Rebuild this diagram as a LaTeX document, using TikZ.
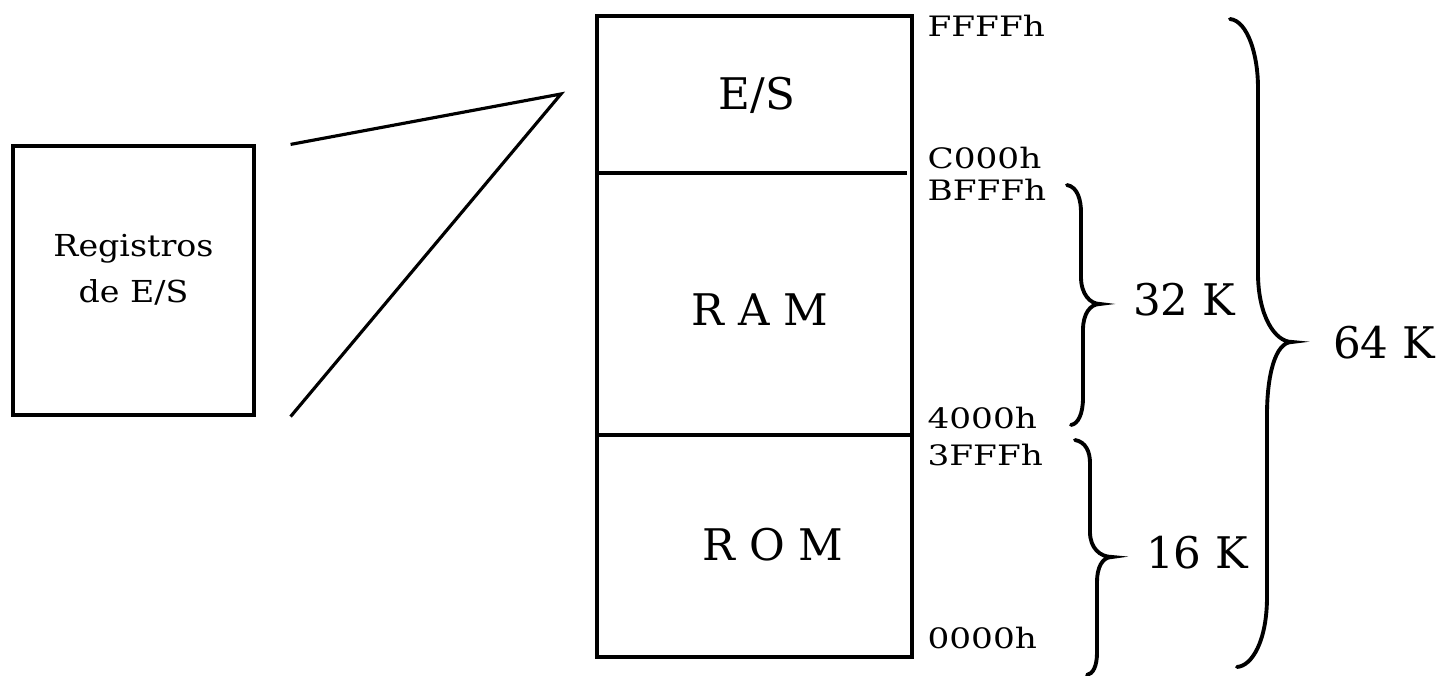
\documentclass[tikz,border=0pt]{standalone}
\usepackage{fontspec}
\setmainfont{DejaVu Serif}
\newfontfamily\addrfont[FakeStretch=1.22]{DejaVu Serif}
\newfontfamily\regsfont[FakeStretch=1.1]{DejaVu Serif}
\usetikzlibrary{positioning}
\usetikzlibrary{calc}

\begin{document}
\begin{tikzpicture}[line width=0.9pt,
    every node/.style={inner sep=0pt},
    region/.style={font=\fontsize{12.4}{14}\selectfont},
    addr/.style={anchor=west, font=\addrfont\fontsize{8}{9}\selectfont},
    size/.style={font=\fontsize{12.4}{14}\selectfont},
    llave/.style={line width=1.1pt, line cap=round}]
    \useasboundingbox (0,0) rectangle (14.39,6.76);
    % registros de E/S y el zoom hacia el mapa
    \node[draw, minimum width=2.41cm, minimum height=2.69cm] (regs) at (1.335, 3.955) {};
    \node[align=center, font=\regsfont\fontsize{8.6}{13}\selectfont] (regstxt)
          at ($(regs.center)+(0,0.11)$) {Registros\\de E/S};
    \coordinate (apex) at (5.61, 5.82);
    \coordinate (zt) at ($(regs.north east)+(0.35,0)$);
    \coordinate (zb) at ($(regs.south east)+(0.35,0)$);
    \draw (zt) -- (apex) -- (zb);
    % mapa de memoria
    \node[draw, minimum width=3.15cm, minimum height=6.41cm] (mem) at (7.545, 3.395) {};
    \draw (mem.west |- 0,5.03) -- (9.07, 5.03);
    \draw (mem.west |- 0,2.41) -- (mem.east |- 0,2.41);
    \node[region] (es) at (7.57, 5.81) {E/S};
    \node[region] (ram) at (7.60, 3.66) {R A M};
    \node[region] (rom) at (7.73, 1.31) {R O M};
    \foreach \y/\a in {6.50/FFFFh, 5.18/C000h, 4.86/BFFFh, 2.58/4000h, 2.21/3FFFh, 0.38/0000h} {
        \node[addr] (a\a) at (9.26, \y) {\a};
    }
    % llaves
    \draw[llave] (10.67,4.91) .. controls (10.78,4.89) and (10.81,4.75) .. (10.81,4.64)
        -- (10.81,3.99) .. controls (10.81,3.82) and (10.90,3.72) .. (11.00,3.72)
        .. controls (10.90,3.72) and (10.83,3.62) .. (10.83,3.46)
        -- (10.83,2.78) .. controls (10.83,2.62) and (10.78,2.52) .. (10.71,2.51);
    \draw[llave] (10.75,2.36) .. controls (10.86,2.34) and (10.90,2.24) .. (10.90,2.13)
        -- (10.90,1.44) .. controls (10.90,1.28) and (11.00,1.19) .. (11.12,1.19)
        .. controls (11.02,1.19) and (10.97,1.08) .. (10.97,0.94)
        -- (10.97,0.23) .. controls (10.97,0.10) and (10.93,0.02) .. (10.87,0.01);
    \draw[llave] (12.30,6.57) .. controls (12.48,6.55) and (12.58,6.20) .. (12.58,5.89)
        -- (12.58,4.03) .. controls (12.58,3.60) and (12.75,3.34) .. (12.92,3.34)
        .. controls (12.75,3.34) and (12.67,3.00) .. (12.67,2.61)
        -- (12.67,0.79) .. controls (12.67,0.35) and (12.52,0.10) .. (12.37,0.09);
    \node[size] (k32) at (11.84, 3.76) {32 K};
    \node[size] (k16) at (11.97, 1.23) {16 K};
    \node[size] (k64) at (13.84, 3.33) {64 K};
\end{tikzpicture}
\end{document}
